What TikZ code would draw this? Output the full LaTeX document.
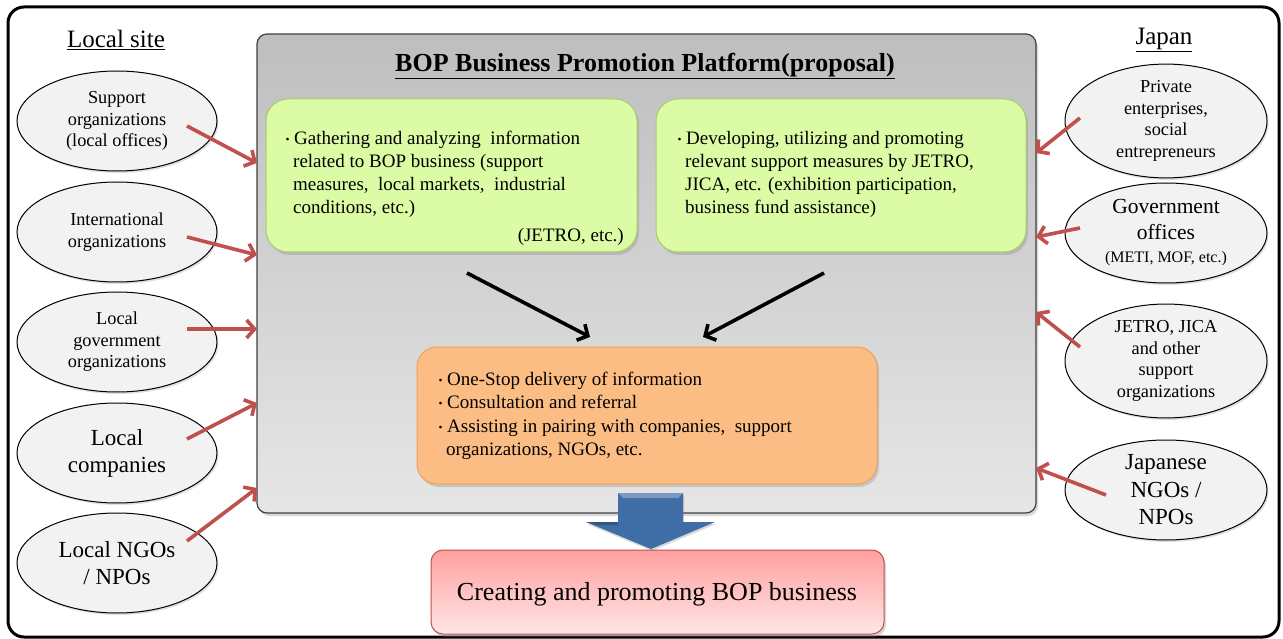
\documentclass[tikz,border=0pt]{standalone}
\usepackage{fontspec}
\setmainfont{Liberation Serif}
\newfontfamily\cjk{Noto Sans CJK JP}
\usetikzlibrary{arrows.meta,shadows,calc,shapes.geometric}
\definecolor{redarr}{HTML}{C0504D}
\definecolor{platgray}{HTML}{BEBEBE}
\definecolor{platlight}{HTML}{E6E6E6}
\definecolor{greenfill}{HTML}{DBFBA5}
\definecolor{greenline}{HTML}{A9CD6E}
\definecolor{orangefill}{HTML}{FCBD84}
\definecolor{orangeline}{HTML}{F0A05A}
\definecolor{pinkfill}{HTML}{FF9F9F}
\definecolor{pinklight}{HTML}{FFE6E6}
\definecolor{bluearr}{HTML}{3F6DA5}
\definecolor{ellfill}{HTML}{F2F2F2}
\newcommand{\bul}{{\cjk\fontsize{13}{13}\selectfont ・}}
\tikzset{
  ellnode/.style={draw=black, line width=1pt, fill=ellfill, ellipse, minimum width=200pt, minimum height=100pt, inner sep=0pt, align=center,
    drop shadow={opacity=0.25, shadow xshift=1.5pt, shadow yshift=-2pt}},
  redarrow/.style={draw=redarr, line width=3.6pt, -{Straight Barb[length=8pt,width=18pt,line width=3.6pt]}},
  blackarrow/.style={draw=black, line width=3.6pt, -{Straight Barb[length=8pt,width=18pt,line width=3.6pt]}},
  greenbox/.style={draw=greenline, line width=1pt, fill=greenfill, rounded corners=22pt,
    drop shadow={opacity=0.3, shadow xshift=2pt, shadow yshift=-3pt}},
  header/.style={font=\fontsize{25}{28}\selectfont},
  smallell/.style={font=\fontsize{18.3}{21.5}\selectfont},
}
\begin{document}
\begin{tikzpicture}[x=1pt,y=-1pt]
\useasboundingbox (0,0) rectangle (1283,639);
\fill[white] (0,0) rectangle (1283,639);
% outer frame
\draw[line width=3pt, rounded corners=16pt] (8,7) rectangle (1279,637);
% headers
\node[header] (hl) at (116,40) {\underline{Local site}};
\node[header] (hr) at (1164,40) {\underline{Japan}};
% platform
\path[rounded corners=10pt, top color=platgray, middle color=platgray, bottom color=platlight,
   drop shadow={opacity=0.3, shadow xshift=2pt, shadow yshift=-3pt}]
   (257,34) rectangle (1036,513);
\draw[rounded corners=10pt, line width=1.2pt, draw=black!75] (257,34) rectangle (1036,513);
\coordinate (platW) at (257,274);
\coordinate (platE) at (1036,274);
\node[font=\bfseries\fontsize{26}{29}\selectfont] (title) at (645,66) {\underline{BOP Business Promotion Platform(proposal)}};
% green boxes
\draw[greenbox] (266,99) rectangle (637,252);
\draw[greenbox] (656,99) rectangle (1026,252);
\node[anchor=north west, inner sep=0pt, align=left, font=\fontsize{19}{23}\selectfont] (g1) at (281,131)
  {\bul Gathering and analyzing \ information\\
   \hspace*{12pt}related to BOP business (support\\
   \hspace*{12pt}measures, \ local markets, \ industrial\\
   \hspace*{12pt}conditions, etc.)};
\node[anchor=north east, inner sep=0pt, font=\fontsize{19}{23}\selectfont] (g1b) at (624,228) {(JETRO, etc.)};
\node[anchor=north west, inner sep=0pt, align=left, font=\fontsize{19}{23}\selectfont] (g2) at (673,131)
  {\bul Developing, utilizing and promoting\\
   \hspace*{12pt}relevant support measures by JETRO,\\
   \hspace*{12pt}JICA, etc. (exhibition participation,\\
   \hspace*{12pt}business fund assistance)};
% orange box
\draw[draw=orangeline, line width=1pt, fill=orangefill, rounded corners=20pt,
   drop shadow={opacity=0.3, shadow xshift=2pt, shadow yshift=-3pt}] (417,347) rectangle (877,484);
\node[anchor=north west, inner sep=0pt, align=left, font=\fontsize{19}{23.3}\selectfont] (ob) at (434,372)
  {\bul One-Stop delivery of information\\
   \bul Consultation and referral\\
   \bul Assisting in pairing with companies, \ support\\
   \hspace*{12pt}organizations, NGOs, etc.};
\coordinate (oL) at (590,337);
\coordinate (oR) at (703,337);
\coordinate (gL) at (467,273);
\coordinate (gR) at (824,273);
\draw[blackarrow] (gL) -- (oL);
\draw[blackarrow] (gR) -- (oR);
% pink box
\path[rounded corners=12pt, top color=pinkfill, middle color=pinkfill, bottom color=pinklight,
   drop shadow={opacity=0.3, shadow xshift=2pt, shadow yshift=-3pt}] (431,550) rectangle (884,634);
\draw[rounded corners=12pt, line width=1pt, draw=redarr] (431,550) rectangle (884,634);
\node[font=\fontsize{26}{30}\selectfont] (pk) at (657,594) {Creating and promoting BOP business};
% blue arrow
\fill[bluearr, drop shadow={opacity=0.3, shadow xshift=1pt, shadow yshift=-2pt}]
  (618,493) -- (683,493) -- (683,522) -- (715,522) -- (651,549) -- (586,522) -- (618,522) -- cycle;
\fill[bluearr!70!white] (618,493) -- (683,493) -- (678,498) -- (623,498) -- cycle;
\fill[bluearr!80!black] (586,522) -- (618,522) -- (618,525) -- (596,525) -- cycle;
% left ellipses
\node[ellnode, smallell] (l1) at (117,121) {Support\\organizations\\(local offices)};
\node[ellnode, smallell] (l2) at (117,232) {International\\organizations};
\node[ellnode, smallell] (l3) at (117,342) {Local\\government\\organizations};
\node[ellnode, font=\fontsize{23}{27}\selectfont] (l4) at (117,453) {Local\\companies};
\node[ellnode, font=\fontsize{23}{27}\selectfont] (l5) at (117,563) {Local NGOs\\/ NPOs};
% right ellipses
\node[ellnode, minimum width=202pt, smallell] (r1) at (1166,121) {Private\\enterprises,\\social\\entrepreneurs};
\node[ellnode, minimum width=202pt, font=\fontsize{21.5}{26}\selectfont] (r2) at (1166,233)
  {Government\\offices\\[-3pt]\fontsize{16}{19}\selectfont (METI, MOF, etc.)};
\node[ellnode, minimum width=202pt, smallell] (r3) at (1166,361) {JETRO, JICA\\and other\\support\\organizations};
\node[ellnode, minimum width=202pt, font=\fontsize{23}{27.5}\selectfont] (r4) at (1166,490) {Japanese\\NGOs /\\NPOs};
% red arrows
\draw[redarrow] ($(l1.center)+(70,5)$) -- (platW |- 0,163);
\draw[redarrow] ($(l2.center)+(70,5)$) -- (platW |- 0,255);
\draw[redarrow] ($(l3.center)+(70,-13)$) -- (platW |- 0,329);
\draw[redarrow] ($(l4.center)+(70,-14)$) -- (platW |- 0,403);
\draw[redarrow] ($(l5.center)+(70,-22)$) -- (platW |- 0,488);
\draw[redarrow] ($(r1.center)+(-86,-3)$) -- (platE |- 0,153);
\draw[redarrow] ($(r2.center)+(-86,-5)$) -- (platE |- 0,237);
\draw[redarrow] ($(r3.center)+(-86,-14)$) -- (platE |- 0,312);
\draw[redarrow] ($(r4.center)+(-60,5)$) -- (platE |- 0,468);
\end{tikzpicture}
\end{document}
